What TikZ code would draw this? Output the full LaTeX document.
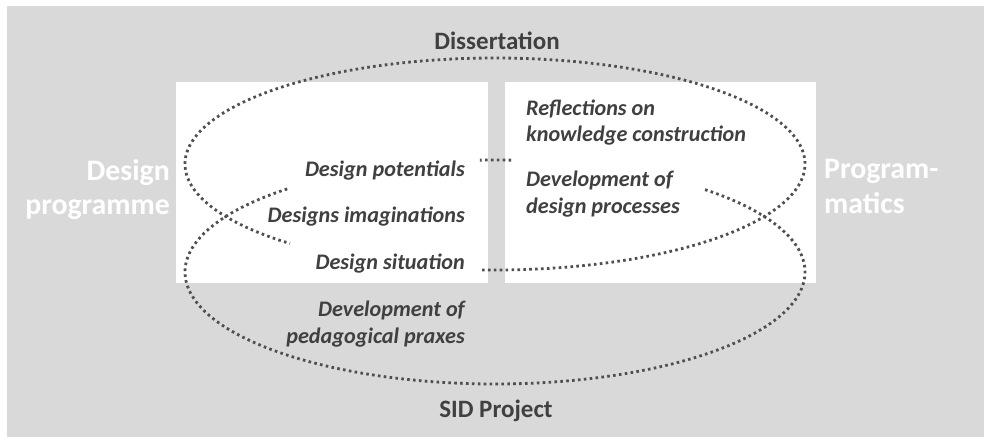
\documentclass[tikz,border=0pt]{standalone}
\usepackage{fontspec}
\setmainfont{Carlito}
\definecolor{bggray}{HTML}{D9D9D9}
\definecolor{txtgray}{HTML}{404040}
\definecolor{dotgray}{HTML}{4F4F4F}
\begin{document}
\begin{tikzpicture}[x=1pt,y=-1pt,
  dotline/.style={draw=dotgray, line width=2.8pt, dash pattern=on 2.6pt off 3.3pt},
  titlelabel/.style={font=\fontsize{25}{29}\selectfont\bfseries, text=txtgray, inner sep=0pt},
  sidelabel/.style={font=\fontsize{29.8}{34}\selectfont\bfseries, text=white, inner sep=0pt},
  itemlabel/.style={font=\fontsize{22.2}{26}\selectfont\bfseries\itshape, text=txtgray, inner sep=0pt}]
\useasboundingbox (0,0) rectangle (984,437);
\fill[white] (0,0) rectangle (984,437);
\fill[bggray] (7,6) rectangle (984,437);
\fill[white] (176,82) rectangle (488,283);
\fill[white] (505,82) rectangle (816,283);

% Dissertation ellipse
\draw[dotline] plot[domain=-92.4:228.6, samples=260] ({495+310*cos(\x)},{164-106*sin(\x)});
% SID Project ellipse
\draw[dotline] plot[domain=132.1:407.9, samples=240] ({495+310*cos(\x)},{272-112*sin(\x)});
\draw[dotline] plot[domain=87:92.8, samples=8] ({495+310*cos(\x)},{272-112*sin(\x)});

\node[titlelabel, anchor=base] (diss) at (497,49) {Dissertation};
\node[titlelabel, anchor=base] (sid) at (496,417) {SID Project};

\node[sidelabel, anchor=base east] (dp1) at (170,180) {Design};
\node[sidelabel, anchor=base east] (dp2) at (170,214) {programme};
\node[sidelabel, anchor=base west] (pm1) at (824,178) {Program-};
\node[sidelabel, anchor=base west] (pm2) at (824,213) {matics};

\node[itemlabel, anchor=base east] (pot) at (465,176.7) {Design potentials};
\node[itemlabel, anchor=base east] (ima) at (465,222.5) {Designs imaginations};
\node[itemlabel, anchor=base east] (sit) at (465,269) {Design situation};
\node[itemlabel, anchor=base east] (ped1) at (465,316) {Development of};
\node[itemlabel, anchor=base east] (ped2) at (465,343) {pedagogical praxes};

\node[itemlabel, anchor=base west] (ref1) at (526,115) {Reflections on};
\node[itemlabel, anchor=base west] (ref2) at (526,141.7) {knowledge construction};
\node[itemlabel, anchor=base west] (dev1) at (526,186.7) {Development of};
\node[itemlabel, anchor=base west] (dev2) at (526,213.3) {design processes};
\end{tikzpicture}
\end{document}
